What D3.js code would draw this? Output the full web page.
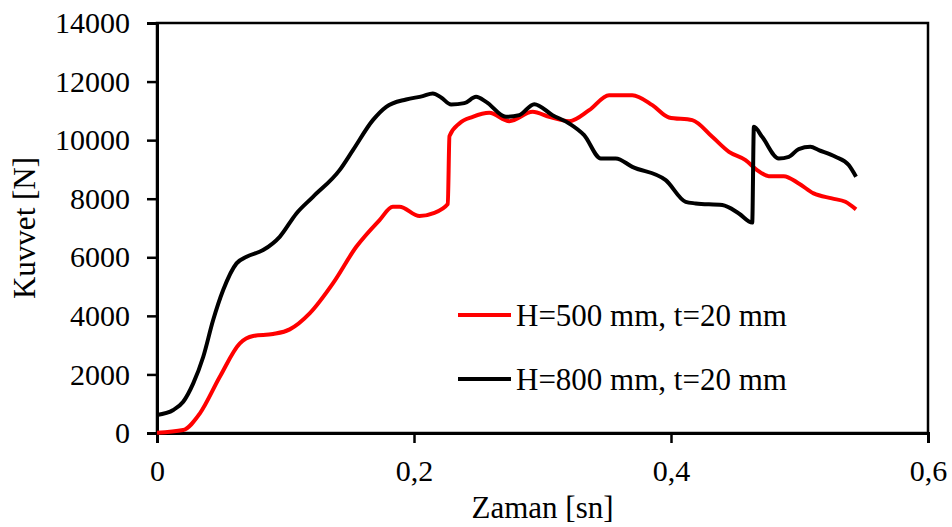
<!DOCTYPE html>
<html>
<head>
<meta charset="utf-8">
<script src="https://cdn.jsdelivr.net/npm/d3@7"></script>
<style>
  body { margin: 0; background: #fff; }
  svg text { font-family: "Liberation Serif", "DejaVu Serif", serif; fill: #000; }
</style>
</head>
<body>
<script>
// values
const timeH500 = [0, 0.0204, 0.0334, 0.0489, 0.0645, 0.0748, 0.0903, 0.1033, 0.1188, 0.1369, 0.1551, 0.1732, 0.1835, 0.1887, 0.2043, 0.2146, 0.2263, 0.2276, 0.2353, 0.2457, 0.2586, 0.2742, 0.2923, 0.3052, 0.3208, 0.3363, 0.3518, 0.3699, 0.3855, 0.3984, 0.4166, 0.4321, 0.4451, 0.458, 0.467, 0.4761, 0.4877, 0.4994, 0.511, 0.5252, 0.5357, 0.544];
const forceH500 = [10, 102, 672, 1921, 3061, 3311, 3379, 3539, 4085, 5109, 6358, 7270, 7724, 7724, 7406, 7498, 7816, 10137, 10570, 10795, 10932, 10649, 10966, 10795, 10649, 11024, 11536, 11536, 11195, 10775, 10683, 10113, 9601, 9318, 8976, 8771, 8771, 8522, 8181, 8010, 7894, 7635];

const timeH800 = [0, 0.0127, 0.0204, 0.0282, 0.036, 0.0437, 0.0515, 0.0619, 0.0697, 0.0826, 0.0955, 0.1085, 0.1214, 0.1421, 0.1525, 0.168, 0.1784, 0.1939, 0.2068, 0.2146, 0.2211, 0.2289, 0.2392, 0.2483, 0.2561, 0.2716, 0.2819, 0.2936, 0.3078, 0.3208, 0.3324, 0.3454, 0.357, 0.3699, 0.3959, 0.4114, 0.4192, 0.4399, 0.4528, 0.4632, 0.4645, 0.4709, 0.4839, 0.4917, 0.4994, 0.5085, 0.515, 0.528, 0.5383, 0.544];
const forceH800 = [614, 785, 1068, 1696, 2604, 3857, 4881, 5792, 6017, 6246, 6700, 7498, 8065, 8976, 9659, 10683, 11137, 11389, 11502, 11594, 11457, 11218, 11263, 11478, 11307, 10795, 10853, 11229, 10853, 10570, 10171, 9375, 9375, 9089, 8635, 7894, 7840, 7782, 7498, 7184, 10454, 10113, 9375, 9430, 9693, 9772, 9659, 9430, 9147, 8748];

const xTicks = [0, 0.2, 0.4, 0.6];
const yTicks = [0, 2000, 4000, 6000, 8000, 10000, 12000, 14000];
const seriesNames = ["H=500 mm, t=20 mm", "H=800 mm, t=20 mm"];
const seriesColors = ["#ff0000", "#000000"];

const width = 952, height = 527;
const margin = {top: 23, right: 24, bottom: 94, left: 157};
const fontFamily = '"Liberation Serif", "DejaVu Serif", serif';

const x = d3.scaleLinear().domain([0, 0.6]).range([margin.left, width - margin.right]);
const y = d3.scaleLinear().domain([0, 14000]).range([height - margin.bottom, margin.top]);

const svg = d3.select("body")
  .append("svg")
  .attr("width", width)
  .attr("height", height)
  .style("font-family", fontFamily);

// plot frame
svg.append("rect")
  .attr("x", margin.left)
  .attr("y", margin.top)
  .attr("width", width - margin.left - margin.right)
  .attr("height", height - margin.top - margin.bottom)
  .attr("fill", "none")
  .attr("stroke", "#000")
  .attr("stroke-width", 2.5);

const xAxis = svg.append("g")
  .attr("transform", `translate(0,${y(0)})`)
  .call(d3.axisBottom(x).tickValues(xTicks).tickSize(10).tickPadding(17)
    .tickFormat((d) => String(d).replace(".", ",")));

const yAxis = svg.append("g")
  .attr("transform", `translate(${x(0)},0)`)
  .call(d3.axisLeft(y).tickValues(yTicks).tickSize(10).tickPadding(17)
    .tickFormat(d3.format("d")));

[xAxis, yAxis].forEach((g) => {
  g.attr("font-family", fontFamily).attr("font-size", 30);
  g.select(".domain").attr("stroke", "#000").attr("stroke-width", 3);
  g.selectAll(".tick line").attr("stroke", "#000").attr("stroke-width", 2.5);
  g.selectAll(".tick text").style("font-family", fontFamily).style("font-size", "30px");
});

// series lines
const series = [
  {t: timeH500, f: forceH500},
  {t: timeH800, f: forceH800}
];

const line = d3.line()
  .x((d) => x(d[0]))
  .y((d) => y(d[1]))
  .curve(d3.curveMonotoneX);

series.forEach((s, i) => {
  svg.append("path")
    .datum(s.t.map((t, j) => [t, s.f[j]]))
    .attr("d", line)
    .attr("fill", "none")
    .attr("stroke", seriesColors[i])
    .attr("stroke-width", 4)
    .attr("stroke-linejoin", "round");
});

// legend
const legend = svg.append("g").attr("transform", "translate(458,315)");
seriesNames.forEach((name, i) => {
  const g = legend.append("g").attr("transform", `translate(0,${i * 64})`);
  g.append("line")
    .attr("x1", 0).attr("x2", 53)
    .attr("stroke", seriesColors[i])
    .attr("stroke-width", 4);
  g.append("text")
    .attr("x", 58)
    .attr("y", 11)
    .style("font-size", "31px")
    .text(name);
});

// axis titles
svg.append("text")
  .attr("x", (x(0) + x(0.6)) / 2)
  .attr("y", 518)
  .attr("text-anchor", "middle")
  .style("font-size", "31px")
  .text("Zaman [sn]");

svg.append("text")
  .attr("transform", `translate(35,${(y(0) + y(14000)) / 2}) rotate(-90)`)
  .attr("text-anchor", "middle")
  .style("font-size", "31px")
  .text("Kuvvet [N]");
</script>
</body>
</html>
